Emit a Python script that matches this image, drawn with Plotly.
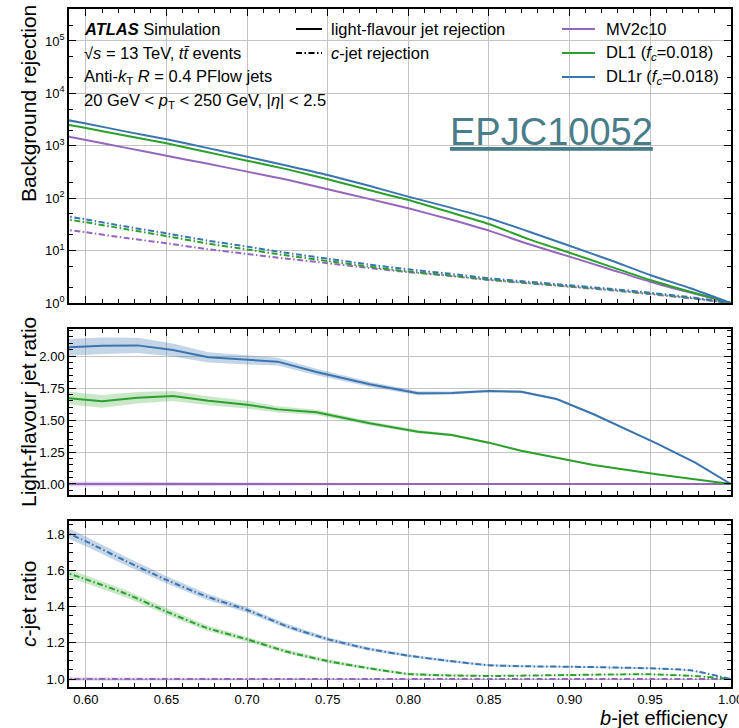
import plotly.graph_objects as go

# ---------------- data ----------------
eff = [0.585, 0.60, 0.625, 0.65, 0.675, 0.70, 0.725, 0.75, 0.775, 0.80,
       0.825, 0.85, 0.875, 0.90, 0.925, 0.95, 0.975, 1.0]

light_mv2 = [1585, 1288, 912, 646, 457, 321, 224, 148, 98, 64,
             40, 24, 13.2, 7.66, 4.42, 2.55, 1.58, 1.0]
light_dl1 = [2630, 2188, 1549, 1114, 759, 520, 355, 229, 145, 92.5,
             55, 32.2, 16.4, 9.12, 5.0, 2.75, 1.64, 1.0]
light_dl1r = [3236, 2661, 1862, 1330, 912, 617, 417, 277, 174, 107,
              67.6, 41.3, 22.9, 12.4, 6.6, 3.42, 1.91, 1.0]

c_mv2 = [25.7, 22.4, 17.4, 13.8, 10.7, 8.6, 7.0, 5.75, 4.68, 3.89,
         3.31, 2.75, 2.37, 2.04, 1.76, 1.48, 1.23, 1.0]
c_dl1 = [41.0, 34.7, 25.6, 18.9, 13.7, 10.5, 8.05, 6.32, 4.96, 4.0,
         3.38, 2.80, 2.42, 2.08, 1.80, 1.52, 1.25, 1.0]
c_dl1r = [46.8, 39.4, 28.7, 21.3, 15.6, 11.9, 9.0, 7.0, 5.46, 4.39,
          3.64, 2.96, 2.54, 2.18, 1.87, 1.57, 1.29, 1.0]

# light-flavour ratio panel (binned points)
eff_ratio = [0.585, 0.61, 0.632, 0.654, 0.676, 0.70, 0.719, 0.743, 0.776, 0.806,
             0.827, 0.85, 0.87, 0.892, 0.915, 0.954, 0.978, 1.0]
lratio_mv2 = [1.0] * 18
lratio_dl1 = [1.676, 1.646, 1.674, 1.6875, 1.651, 1.62, 1.583, 1.56, 1.474, 1.409,
              1.383, 1.323, 1.26, 1.207, 1.148, 1.076, 1.037, 1.0]
lratio_dl1r = [2.065, 2.08, 2.083, 2.047, 1.99, 1.969, 1.956, 1.875, 1.779, 1.709,
               1.711, 1.727, 1.721, 1.664, 1.545, 1.318, 1.167, 1.0]
lerr_mv2 = [0.02, 0.02, 0.018, 0.016, 0.014, 0.012, 0.01, 0.009, 0.008, 0.007,
            0.006, 0.005, 0.005, 0.004, 0.004, 0.003, 0.002, 0.0]
lerr_dl1 = [0.05, 0.05, 0.045, 0.04, 0.035, 0.03, 0.025, 0.02, 0.016, 0.012,
            0.01, 0.008, 0.007, 0.006, 0.005, 0.004, 0.003, 0.0]
lerr_dl1r = [0.065, 0.065, 0.06, 0.05, 0.04, 0.035, 0.03, 0.025, 0.02, 0.015,
             0.012, 0.01, 0.01, 0.008, 0.007, 0.005, 0.004, 0.0]

# c-jet ratio panel
cratio_mv2 = [1.0] * 18
cratio_dl1 = [1.595, 1.55, 1.47, 1.372, 1.282, 1.219, 1.15, 1.099, 1.06, 1.028,
              1.02, 1.017, 1.019, 1.022, 1.025, 1.026, 1.018, 1.0]
cratio_dl1r = [1.82, 1.76, 1.65, 1.547, 1.455, 1.381, 1.29, 1.22, 1.167, 1.129,
               1.10, 1.076, 1.07, 1.068, 1.064, 1.059, 1.048, 1.0]
cerr_mv2 = [0.01, 0.01, 0.009, 0.008, 0.007, 0.006, 0.005, 0.005, 0.004, 0.004,
            0.003, 0.003, 0.003, 0.002, 0.002, 0.002, 0.001, 0.0]
cerr_dl1 = [0.025, 0.022, 0.02, 0.018, 0.015, 0.013, 0.011, 0.01, 0.008, 0.007,
            0.006, 0.005, 0.005, 0.004, 0.004, 0.003, 0.002, 0.0]
cerr_dl1r = [0.03, 0.027, 0.024, 0.02, 0.017, 0.015, 0.013, 0.011, 0.009, 0.008,
             0.007, 0.006, 0.005, 0.005, 0.004, 0.004, 0.003, 0.0]

taggers = ["MV2c10", "DL1 (<i>f</i><sub><i>c</i></sub>=0.018)", "DL1r (<i>f</i><sub><i>c</i></sub>=0.018)"]
colors = ["#9467bd", "#2ca02c", "#3b75af"]
bands = ["rgba(148,103,189,0.28)", "rgba(44,160,44,0.25)", "rgba(59,117,175,0.30)"]

# ---------------- figure ----------------
W, H = 739, 728
ML, MR, MT, MB = 69, 8, 9, 41
PW, PH = W - ML - MR, H - MT - MB


def px(x):
    return (x - ML) / PW


def py(y):
    return (H - MB - y) / PH


FONT = "Liberation Sans, Arial, Helvetica, sans-serif"
DASHDOT = "6px,2.5px,1.5px,2.5px"

fig = go.Figure()

# top panel
for lv, cv, col in zip([light_mv2, light_dl1, light_dl1r], [c_mv2, c_dl1, c_dl1r], colors):
    fig.add_trace(go.Scatter(x=eff, y=lv, mode="lines",
                             line=dict(color=col, width=2, shape="spline", smoothing=0.6),
                             xaxis="x3", yaxis="y3", showlegend=False, hoverinfo="skip"))
    fig.add_trace(go.Scatter(x=eff, y=cv, mode="lines",
                             line=dict(color=col, width=2, dash=DASHDOT, shape="spline", smoothing=0.6),
                             xaxis="x3", yaxis="y3", showlegend=False, hoverinfo="skip"))


def band(xs, ys, es, fill, xa, ya, shape="linear"):
    up = [y + e for y, e in zip(ys, es)]
    lo = [y - e for y, e in zip(ys, es)]
    fig.add_trace(go.Scatter(x=list(xs) + list(xs)[::-1], y=up + lo[::-1], fill="toself",
                             fillcolor=fill, line=dict(width=0, shape=shape), mode="lines",
                             xaxis=xa, yaxis=ya, showlegend=False, hoverinfo="skip"))


# middle panel
for ys, es, col, fc in zip([lratio_mv2, lratio_dl1, lratio_dl1r], [lerr_mv2, lerr_dl1, lerr_dl1r], colors, bands):
    band(eff_ratio, ys, es, fc, "x2", "y2")
    fig.add_trace(go.Scatter(x=eff_ratio, y=ys, mode="lines", line=dict(color=col, width=2),
                             xaxis="x2", yaxis="y2", showlegend=False, hoverinfo="skip"))

# bottom panel
for ys, es, col, fc in zip([cratio_mv2, cratio_dl1, cratio_dl1r], [cerr_mv2, cerr_dl1, cerr_dl1r], colors, bands):
    band(eff, ys, es, fc, "x", "y")
    fig.add_trace(go.Scatter(x=eff, y=ys, mode="lines",
                             line=dict(color=col, width=2, dash=DASHDOT, shape="spline", smoothing=0.6),
                             xaxis="x", yaxis="y", showlegend=False, hoverinfo="skip"))

common = dict(showline=True, linecolor="black", linewidth=1.5, mirror="allticks",
              ticks="inside", ticklen=7, tickwidth=1.2, tickcolor="black",
              showgrid=True, gridcolor="#c4c4c4", gridwidth=1.2, zeroline=False,
              automargin=False,
              tickfont=dict(family=FONT, size=13, color="black"))

xr = [0.5895, 1.0002]
xcommon = dict(common, range=xr, dtick=0.05, tick0=0.0,
               minor=dict(ticks="inside", ticklen=4, tickcolor="black", dtick=0.01, showgrid=False))

fig.update_layout(
    width=W, height=H, margin=dict(l=ML, r=MR, t=MT, b=MB, autoexpand=False),
    paper_bgcolor="white", plot_bgcolor="white",
    font=dict(family=FONT, color="black"),
    xaxis=dict(xcommon, anchor="y", tickformat=".2f", ticklabeloverflow="allow"),
    yaxis=dict(common, domain=[0, py(521)], range=[0.956, 1.872], dtick=0.2, tick0=0,
               tickformat=".1f", anchor="x",
               minor=dict(ticks="inside", ticklen=4, tickcolor="black", dtick=0.05, showgrid=False)),
    xaxis2=dict(xcommon, anchor="y2", matches="x", showticklabels=False),
    yaxis2=dict(common, domain=[py(495), py(329)], range=[0.914, 2.211], dtick=0.25, tick0=0,
                tickformat=".2f", anchor="x2",
                minor=dict(ticks="inside", ticklen=4, tickcolor="black", dtick=0.05, showgrid=False)),
    xaxis3=dict(xcommon, anchor="y3", matches="x", showticklabels=False),
    yaxis3=dict(common, domain=[py(303), 1.0], type="log", range=[0, 5.61], anchor="x3",
                tickvals=[1, 10, 100, 1000, 1e4, 1e5],
                ticktext=["10<sup>0</sup>", "10<sup>1</sup>", "10<sup>2</sup>", "10<sup>3</sup>",
                          "10<sup>4</sup>", "10<sup>5</sup>"],
                minor=dict(ticks="inside", ticklen=4, tickcolor="black", showgrid=False)),
)

ann = []


def text(x, y, s, size=16.5, xanchor="left", **kw):
    ann.append(dict(x=px(x), y=py(y), xref="paper", yref="paper", text=s, showarrow=False,
                    xanchor=xanchor, yanchor="middle", font=dict(family=FONT, size=size,
                                                                 color=kw.pop("color", "black")), **kw))


text(82, 29, "<b><i>ATLAS</i></b> Simulation")
text(82, 53, "√<i>s</i> = 13 TeV, <i>t</i><i>t̄</i> events")
text(82, 77, "Anti-<i>k</i><sub>T</sub> <i>R</i> = 0.4 PFlow jets")
text(82, 101, "20 GeV &lt; <i>p</i><sub>T</sub> &lt; 250 GeV, |<i>η</i>| &lt; 2.5")

text(329, 29, "light-flavour jet rejection")
text(329, 53, "<i>c</i>-jet rejection")
text(604, 29, "MV2c10")
text(604, 53, taggers[1])
text(604, 77, taggers[2])

text(551, 132, "<u>EPJC10052</u>", size=38, xanchor="center", color="#4a7d8a")

# axis titles
for yc, s in [(104, "Background rejection"), (412, "Light-flavour jet ratio"), (604, "<i>c</i>-jet ratio")]:
    ann.append(dict(x=px(28), y=py(yc), xref="paper", yref="paper", text=s,
                    textangle=-90, showarrow=False, xanchor="center", yanchor="middle",
                    font=dict(family=FONT, size=21, color="black")))
ann.append(dict(x=px(729), y=py(718), xref="paper", yref="paper", text="<i>b</i>-jet efficiency",
                showarrow=False, xanchor="right", yanchor="middle",
                font=dict(family=FONT, size=20, color="black")))
fig.update_layout(annotations=ann)

# legend handles
shapes = []
for y, dash in [(29, "solid"), (53, DASHDOT)]:
    shapes.append(dict(type="line", xref="paper", yref="paper", x0=px(296), x1=px(322),
                       y0=py(y), y1=py(y), line=dict(color="black", width=2, dash=dash)))
for y, col in zip([29, 53, 77], colors):
    shapes.append(dict(type="line", xref="paper", yref="paper", x0=px(562), x1=px(595),
                       y0=py(y), y1=py(y), line=dict(color=col, width=2)))
fig.update_layout(shapes=shapes)

fig.write_html("out.html")
